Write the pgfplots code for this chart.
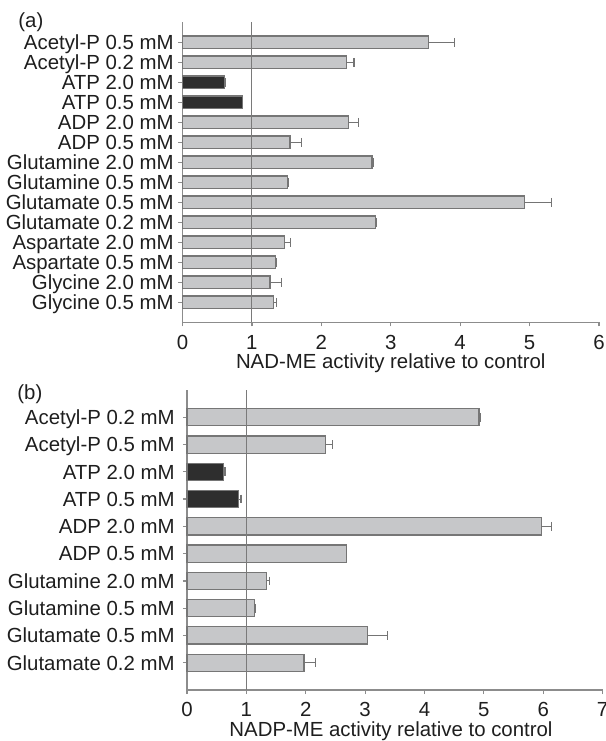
\documentclass[border=0pt]{standalone}
\usepackage{fontspec}
\setmainfont{Liberation Sans}
\usepackage{pgfplots}
\usepackage{pgfplotstable}
\pgfplotsset{compat=1.18}
\definecolor{barfill}{HTML}{C6C7C9}
\definecolor{baredge}{HTML}{767676}
\definecolor{darkbar}{HTML}{2E2E2E}
\definecolor{axisgray}{HTML}{8C8C8C}
\definecolor{vline}{HTML}{7A7A7A}
\definecolor{errgray}{HTML}{747474}
\definecolor{txt}{HTML}{1E1E1E}
\newcommand{\lbl}{\fontsize{10.2}{12}\selectfont}

% panel (a): y position, value, error
\pgfplotstableread{
y v e
14 3.54 0.38
13 2.36 0.11
10 2.39 0.15
9 1.55 0.16
8 2.73 0.02
7 1.51 0.02
6 4.93 0.38
5 2.78 0.02
4 1.47 0.09
3 1.34 0.02
2 1.26 0.17
1 1.31 0.05
}\dataAgray
\pgfplotstableread{
y v e
12 0.61 0.015
11 0.86 0.005
}\dataAdark
% panel (b)
\pgfplotstableread{
y v e
10 4.92 0.03
9 2.33 0.12
6 5.97 0.17
5 2.68 0.01
4 1.34 0.05
3 1.14 0.005
2 3.04 0.34
1 1.97 0.19
}\dataBgray
\pgfplotstableread{
y v e
8 0.61 0.03
7 0.87 0.04
}\dataBdark

\pgfplotsset{
  mystyle/.style={
    scale only axis,
    clip=false,
    axis x line*=bottom,
    axis y line*=left,
    axis line style={axisgray, line width=0.6pt},
    every tick/.style={axisgray, line width=0.6pt},
    tick align=outside,
    major tick length=2pt,
    ticklabel style={font=\lbl, text=txt},
    /pgf/number format/assume math mode=true,
    xticklabel style={anchor=base, inner sep=0pt, yshift=-11.35pt},
    xlabel style={font=\lbl, text=txt, at={(axis description cs:0.5,0)}, anchor=base, inner sep=0pt, yshift=-23pt},
  },
  barstyle/.style={
    xbar, bar width=0.63, bar shift=0pt, draw=baredge, line width=0.6pt,
    error bars/x dir=plus, error bars/x explicit,
    error bars/error mark=|,
    error bars/error bar style={errgray, line width=0.55pt},
    error bars/error mark options={errgray, line width=0.55pt, mark size=2.2pt},
  },
}

\begin{document}
\begin{tikzpicture}[x=1pt,y=1pt]
\useasboundingbox (0,0) rectangle (303,-370.5);
\node[anchor=base west, inner sep=0pt, font=\lbl, text=txt] at (9,-13.75) {(a)};
\node[anchor=base west, inner sep=0pt, font=\lbl, text=txt] at (8.5,-199.6) {(b)};

\begin{axis}[mystyle,
  at={(91.25pt,-10.85pt)}, anchor=north west,
  width=208.25pt, height=150.3pt,
  xmin=0, xmax=6, ymin=0, ymax=15.03,
  xtick={0,1,2,3,4,5,6},
  ytick={1,2,3,4,5,6,7,8,9,10,11,12,13,14},
  yticklabels={Glycine 0.5 mM, Glycine 2.0 mM, Aspartate 0.5 mM, Aspartate 2.0 mM, Glutamate 0.2 mM, Glutamate 0.5 mM, Glutamine 0.5 mM, Glutamine 2.0 mM, ADP 0.5 mM, ADP 2.0 mM, ATP 0.5 mM, ATP 2.0 mM, Acetyl-P 0.2 mM, Acetyl-P 0.5 mM},
  yticklabel style={anchor=base east, inner sep=0pt, xshift=-2.25pt, yshift=-3.66pt},
  xlabel={NAD-ME activity relative to control},
]
\addplot[barstyle, fill=barfill] table[x=v, y=y, x error=e] {\dataAgray};
\addplot[barstyle, fill=darkbar] table[x=v, y=y, x error=e] {\dataAdark};
\addplot[vline, line width=0.5pt] coordinates {(1,0) (1,15.03)};
\end{axis}

\begin{axis}[mystyle,
  at={(93.5pt,-195pt)}, anchor=north west,
  width=207.8pt, height=150pt,
  xmin=0, xmax=7, ymin=0, ymax=11,
  xtick={0,1,2,3,4,5,6,7},
  ytick={1,2,3,4,5,6,7,8,9,10},
  yticklabels={Glutamate 0.2 mM, Glutamate 0.5 mM, Glutamine 0.5 mM, Glutamine 2.0 mM, ADP 0.5 mM, ADP 2.0 mM, ATP 0.5 mM, ATP 2.0 mM, Acetyl-P 0.5 mM, Acetyl-P 0.2 mM},
  yticklabel style={anchor=base east, inner sep=0pt, xshift=-4pt, yshift=-3.66pt},
  xlabel={NADP-ME activity relative to control},
  xlabel style={xshift=-1.9pt},
]
\addplot[barstyle, fill=barfill] table[x=v, y=y, x error=e] {\dataBgray};
\addplot[barstyle, fill=darkbar] table[x=v, y=y, x error=e] {\dataBdark};
\addplot[vline, line width=0.5pt] coordinates {(1,0) (1,11)};
\end{axis}
\end{tikzpicture}
\end{document}
